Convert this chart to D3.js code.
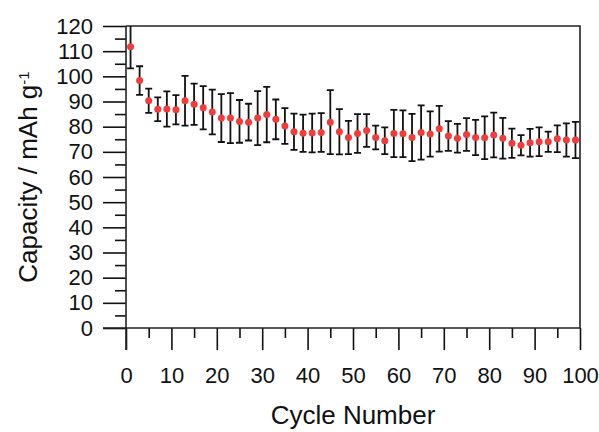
<!DOCTYPE html>
<html>
<head>
<meta charset="utf-8">
<script src="https://cdn.jsdelivr.net/npm/d3@7"></script>
<style>
  body { margin: 0; background: #fff; }
  svg { font-family: "Liberation Sans", Arial, sans-serif; }
</style>
</head>
<body>
<svg id="chart" width="599" height="432"></svg>
<script>
// cycle number, mean capacity and error (half length of bar)
var cycles = [1, 3, 5, 7, 9, 11, 13, 15, 17, 19, 21, 23, 25, 27, 29, 31, 33, 35, 37, 39,
    41, 43, 45, 47, 49, 51, 53, 55, 57, 59, 61, 63, 65, 67, 69, 71, 73, 75, 77, 79,
    81, 83, 85, 87, 89, 91, 93, 95, 97, 99];
var capacity = [111.8, 98.3, 90.3, 86.9, 87.0, 86.7, 90.3, 88.9, 87.5, 85.8,
    83.4, 83.4, 82.1, 81.8, 83.4, 84.8, 82.9, 80.3, 78.0, 77.4,
    77.5, 77.7, 81.8, 78.0, 75.7, 77.3, 78.5, 75.7, 74.4, 77.3,
    77.2, 75.7, 77.7, 77.1, 79.2, 76.3, 75.4, 76.9, 75.7, 75.6,
    76.7, 75.4, 73.4, 72.6, 73.6, 74.0, 74.0, 75.2, 74.7, 74.7];
var errors = [8.6, 5.7, 4.8, 4.7, 7.0, 5.8, 9.9, 8.2, 8.6, 8.9,
    9.5, 9.9, 8.5, 7.3, 10.7, 11.0, 7.9, 7.1, 7.2, 7.4,
    7.7, 7.7, 12.7, 9.0, 6.6, 7.7, 6.5, 4.7, 5.3, 9.4,
    9.3, 9.4, 10.8, 9.0, 9.1, 5.9, 5.7, 6.5, 7.0, 8.5,
    8.9, 8.1, 5.8, 4.0, 5.5, 5.7, 4.0, 5.3, 6.6, 7.2];
var xTicks = [0, 10, 20, 30, 40, 50, 60, 70, 80, 90, 100];
var yTicks = [0, 10, 20, 30, 40, 50, 60, 70, 80, 90, 100, 110, 120];

var data = cycles.map(function (c, i) {
    return {cycle: c, value: capacity[i], err: errors[i]};
});

var svg = d3.select("#chart");
var pLeft = 126, pRight = 580, pTop = 26, pBottom = 328;

var x = d3.scaleLinear().domain([0, 100]).range([pLeft, pRight]);
var y = d3.scaleLinear().domain([0, 120]).range([pBottom, pTop]);

// frame: top and right lines
svg.append("path")
    .attr("d", "M" + pLeft + "," + pTop + "H" + pRight + "V" + pBottom)
    .attr("fill", "none")
    .attr("stroke", "#222")
    .attr("stroke-width", 1.6);

// minor ticks
var xMinor = d3.axisBottom(x).tickValues(d3.range(5, 100, 10)).tickSize(10).tickFormat("");
var yMinor = d3.axisLeft(y).tickValues(d3.range(5, 120, 10)).tickSize(11).tickFormat("");

svg.append("g").attr("transform", "translate(0," + pBottom + ")").call(xMinor);
svg.append("g").attr("transform", "translate(" + pLeft + ",0)").call(yMinor);

var xAxis = d3.axisBottom(x).tickValues(xTicks).tickSize(22).tickPadding(17);
var yAxis = d3.axisLeft(y).tickValues(yTicks).tickSize(23).tickPadding(10);

svg.append("g").attr("transform", "translate(0," + pBottom + ")").call(xAxis);
svg.append("g").attr("transform", "translate(" + pLeft + ",0)").call(yAxis);

svg.selectAll(".domain").remove();
svg.append("line")
    .attr("x1", pLeft - 23).attr("x2", pRight)
    .attr("y1", pBottom).attr("y2", pBottom)
    .attr("stroke", "#222").attr("stroke-width", 1.6);
svg.append("line")
    .attr("x1", pLeft).attr("x2", pLeft)
    .attr("y1", pTop).attr("y2", pBottom + 22)
    .attr("stroke", "#222").attr("stroke-width", 1.6);

svg.selectAll(".tick line").attr("stroke", "#111").attr("stroke-width", 1.6);
svg.selectAll(".tick text")
    .attr("fill", "#111")
    .style("font-size", "22px")
    .style("font-family", "Liberation Sans, Arial, sans-serif");

// clip for error bars
svg.append("clipPath").attr("id", "plot-clip")
    .append("rect")
    .attr("x", pLeft).attr("y", pTop)
    .attr("width", pRight - pLeft).attr("height", pBottom - pTop);

var bars = svg.append("g").attr("clip-path", "url(#plot-clip)");
var capW = 3.5;

bars.selectAll("path.err")
    .data(data)
    .enter().append("path")
    .attr("class", "err")
    .attr("d", function (d) {
        var cx = x(d.cycle), y1 = y(d.value + d.err), y2 = y(d.value - d.err);
        return "M" + cx + "," + y1 + "V" + y2 +
            "M" + (cx - capW) + "," + y1 + "H" + (cx + capW) +
            "M" + (cx - capW) + "," + y2 + "H" + (cx + capW);
    })
    .attr("fill", "none")
    .attr("stroke", "#111")
    .attr("stroke-width", 1.8);

svg.append("g").selectAll("circle")
    .data(data)
    .enter().append("circle")
    .attr("cx", function (d) { return x(d.cycle); })
    .attr("cy", function (d) { return y(d.value); })
    .attr("r", 3.5)
    .attr("fill", "#f23b3b");

// axis titles
svg.append("text")
    .attr("x", 353)
    .attr("y", 424)
    .attr("text-anchor", "middle")
    .style("font-size", "26px")
    .attr("fill", "#111")
    .text("Cycle Number");

var yt = svg.append("text")
    .attr("transform", "translate(37," + ((pTop + pBottom) / 2) + ") rotate(-90)")
    .attr("text-anchor", "middle")
    .style("font-size", "26px")
    .attr("fill", "#111");
yt.append("tspan").text("Capacity / mAh g");
yt.append("tspan").attr("dy", "-0.55em").style("font-size", "15px").text("-1");
</script>
</body>
</html>
